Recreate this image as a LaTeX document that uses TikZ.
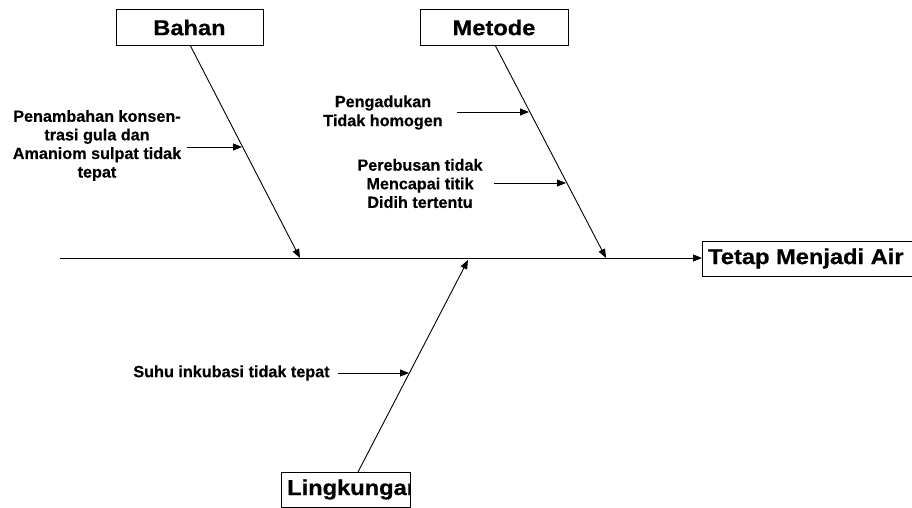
\documentclass[tikz,border=0pt]{standalone}
\usepackage{fontspec}
\setmainfont{Liberation Sans}[BoldFont={Liberation Sans Bold}]
\newfontfamily\bigfont{Liberation Sans Bold}[FakeStretch=1.1,FakeBold=0.6]
\newfontfamily\smallfont{Liberation Sans Bold}[FakeBold=0.4]
\usetikzlibrary{arrows.meta}
\begin{document}
\begin{tikzpicture}[x=1pt,y=-1pt,
  line/.style={draw=black,line width=0.9pt},
  arr/.style={line,-{Triangle[length=9pt,width=7pt]}},
  catbox/.style={draw=black,line width=0.9pt,fill=white},
  bigtxt/.style={font=\bigfont\fontsize{21.5}{24}\selectfont,inner sep=0pt},
  smalltxt/.style={font=\smallfont\fontsize{16.2}{18.6}\selectfont,align=center,inner sep=0pt}]
\useasboundingbox[fill=white] (0,0) rectangle (912,508);
\clip (0,0) rectangle (912,508);
% category boxes
\draw[catbox] (116,9) rectangle (263,45);
\node[bigtxt] (bahan) at (189.5,27.5) {Bahan};
\draw[catbox] (420,9) rectangle (568,45);
\node[bigtxt] (metode) at (494,27.5) {Metode};
\draw[catbox] (702,241) rectangle (930,276);
\node[bigtxt,anchor=west] (hasil) at (708,258.5) {Tetap Menjadi Air};
\draw[catbox] (281,472) rectangle (410,507);
\begin{scope}
\clip (281,472) rectangle (410,507);
\node[bigtxt,anchor=west] (lingk) at (287,489.5) {Lingkungan};
\end{scope}
% coordinates
\coordinate (mstart) at (60,258);
\coordinate (mend) at (702,258);
\coordinate (btop) at (190,45);
\coordinate (bend) at (300,258);
\coordinate (mtop) at (495,45);
\coordinate (mtend) at (606,258);
\coordinate (lbot) at (358,472);
\coordinate (lend) at (468,260);
% main spine and bones
\draw[arr] (mstart) -- (mend);
\draw[arr] (btop) -- (bend);
\draw[arr] (mtop) -- (mtend);
\draw[arr] (lbot) -- (lend);
% causes
\node[smalltxt] (c1) at (97,145.5) {Penambahan konsen-\\trasi gula dan\\Amaniom sulpat tidak\\tepat};
\coordinate (c1s) at (187,147);
\coordinate (c1e) at (242,147);
\draw[arr] (c1s) -- (c1e);
\node[smalltxt,font=\smallfont\fontsize{16.2}{19}\selectfont] (c2) at (383,112.5) {Pengadukan\\Tidak homogen};
\coordinate (c2s) at (457,112);
\coordinate (c2e) at (529,112);
\draw[arr] (c2s) -- (c2e);
\node[smalltxt] (c3) at (420,183.5) {Perebusan tidak\\Mencapai titik\\Didih tertentu};
\coordinate (c3s) at (494,183);
\coordinate (c3e) at (566,183);
\draw[arr] (c3s) -- (c3e);
\node[smalltxt] (c4) at (231.5,373) {Suhu inkubasi tidak tepat};
\coordinate (c4s) at (338,373);
\coordinate (c4e) at (409,373);
\draw[arr] (c4s) -- (c4e);
\end{tikzpicture}
\end{document}
